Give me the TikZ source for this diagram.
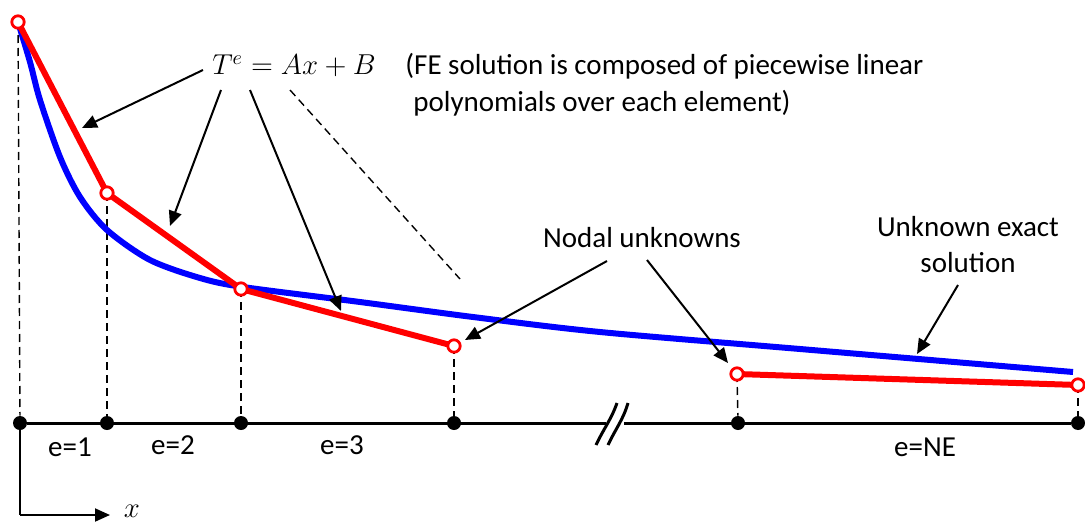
\documentclass[tikz,border=0pt]{standalone}
\usepackage{fontspec}
\setmainfont{Carlito}
\usetikzlibrary{arrows.meta}
\definecolor{fered}{RGB}{255,0,0}
\definecolor{exblue}{RGB}{0,0,255}
\tikzset{
  dotnode/.style={circle,fill=black,inner sep=0pt,minimum size=7pt},
  fenode/.style={circle,draw=fered,fill=white,line width=1.4pt,inner sep=0pt,minimum size=6.2pt},
  guide/.style={black,line width=0.7pt,dash pattern=on 4pt off 2.5pt},
  pointer/.style={black,line width=1pt,-{Triangle[length=7.5pt,width=6.5pt]}},
  txt/.style={inner sep=0pt,font=\fontsize{14.5}{17}\selectfont},
  redline/.style={fered,line width=3pt},
  blueline/.style={exblue,line width=3pt},
  axisline/.style={black,line width=1.5pt}
}
\begin{document}
\begin{tikzpicture}[x=0.5pt,y=-0.5pt]
\useasboundingbox (0,0) rectangle (1085,524);
% axis nodes
\node[dotnode] (a1) at (20,423) {};
\node[dotnode] (a2) at (107,423) {};
\node[dotnode] (a3) at (241,423) {};
\node[dotnode] (a4) at (454,423) {};
\node[dotnode] (a5) at (738,423) {};
\node[dotnode] (a6) at (1078,423) {};
% FE nodes positions
\coordinate (p1) at (18,22);
\coordinate (p2) at (107,193);
\coordinate (p3) at (241,289);
\coordinate (p4) at (454,346);
\coordinate (p5) at (737,374);
\coordinate (p6) at (1078,385);
% dashed verticals
\draw[guide] (p1) -- (a1);
\draw[guide] (p2) -- (a2);
\draw[guide] (p3) -- (a3);
\draw[guide] (p4) -- (a4);
\draw[guide] (p5) -- (a5);
\draw[guide] (p6) -- (a6);
% axis
\coordinate (b1) at (606,423);
\coordinate (b2) at (624,423);
\draw[axisline] (a1) -- (b1);
\draw[axisline] (b2) -- (a6);
\draw[axisline] (596,445) .. controls (604,428) and (611,420) .. (617,403);
\draw[axisline] (608,445) .. controls (616,428) and (623,420) .. (628,403);
% x direction
\coordinate (xc) at (20,515);
\coordinate (xe) at (110,515);
\draw[black,line width=1pt] (a1) -- (xc);
\draw[pointer] (xc) -- (xe);
\node[inner sep=0pt,font=\fontsize{14.5}{17}\selectfont] (xl) at (132,511) {$x$};
% exact solution
\draw[blueline] plot[smooth,tension=0.5] coordinates {(18,22) (30,62) (40,100) (60,157) (80,197) (107,230) (150,260) (200,278) (243,287) (360,302) (473,317) (600,332) (800,349) (1073,372)};
% FE solution
\draw[redline] (p1) -- (p2) -- (p3) -- (p4);
\draw[redline] (p5) -- (p6);
\node[fenode] (r1) at (p1) {};
\node[fenode] (r2) at (p2) {};
\node[fenode] (r3) at (p3) {};
\node[fenode] (r4) at (p4) {};
\node[fenode] (r5) at (p5) {};
\node[fenode] (r6) at (p6) {};
% element labels
\node[txt] (e1) at (70,447) {e=1};
\node[txt] (e2) at (173,445) {e=2};
\node[txt] (e3) at (342,445) {e=3};
\node[txt] (e4) at (925,447) {e=NE};
% formula
\node[txt] (formula) at (294,66) {$T^e=Ax+B$};
\node[txt,anchor=west] (fe1) at (405,66) {(FE solution is composed of piecewise linear};
\node[txt,anchor=west] (fe2) at (413,103) {polynomials over each element)};
\coordinate (f1) at (203,70);
\coordinate (f2) at (221,90);
\coordinate (f3) at (250,90);
\coordinate (f4) at (290,90);
\coordinate (t1) at (82,128);
\coordinate (t2) at (170,226);
\coordinate (t3) at (341,311);
\coordinate (t4) at (460,279);
\draw[pointer] (f1) -- (t1);
\draw[pointer] (f2) -- (t2);
\draw[pointer] (f3) -- (t3);
\draw[guide] (f4) -- (t4);
% nodal unknowns
\node[txt] (nodal) at (642,238) {Nodal unknowns};
\coordinate (n1) at (607,261);
\coordinate (n2) at (647,260);
\coordinate (nt1) at (465,340);
\coordinate (nt2) at (728,363);
\draw[pointer] (n1) -- (nt1);
\draw[pointer] (n2) -- (nt2);
% exact label
\node[txt,align=center] (exact) at (968,245) {Unknown exact\\[1pt]solution};
\coordinate (u1) at (958,285);
\coordinate (ut) at (917,354);
\draw[pointer] (u1) -- (ut);
\end{tikzpicture}
\end{document}
